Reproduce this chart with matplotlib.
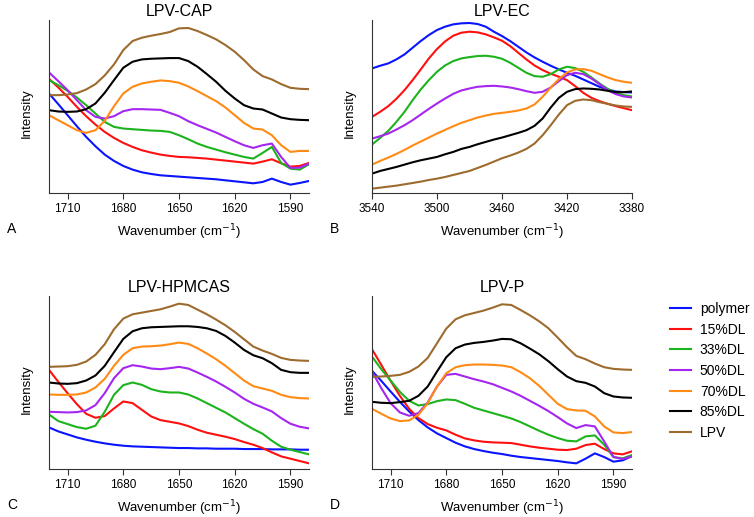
import matplotlib
matplotlib.use("Agg")
import matplotlib.pyplot as plt

plt.rcParams['font.family'] = ['Liberation Sans', 'DejaVu Sans']

# wavenumber grids (cm-1)
wn_co = [1720, 1715, 1710, 1705, 1700, 1695, 1690, 1685, 1680, 1675, 1670, 1665, 1660, 1655, 1650,
         1645, 1640, 1635, 1630, 1625, 1620, 1615, 1610, 1605, 1600, 1595, 1590, 1585, 1580]
wn_oh = [3540, 3535, 3530, 3525, 3520, 3515, 3510, 3505, 3500, 3495, 3490, 3485, 3480, 3475, 3470,
         3465, 3460, 3455, 3450, 3445, 3440, 3435, 3430, 3425, 3420, 3415, 3410, 3405, 3400, 3395,
         3390, 3385, 3380]

series_names = ["polymer", "15%DL", "33%DL", "50%DL", "70%DL", "85%DL", "LPV"]
series_colors = ["#0a14ff", "#ff1010", "#1db31d", "#a526f0", "#ff8a14", "#000000", "#9e6b2e"]

# LPV-CAP (arbitrary intensity)
cap_polymer = [298, 266, 233, 200, 168, 140, 115, 96, 81, 70, 62, 57, 53, 51, 49, 47, 45, 43, 41, 38, 35, 32, 29, 33, 43, 33, 25, 30, 36]
cap_15 = [342, 316, 288, 258, 230, 205, 183, 165, 150, 138, 128, 121, 115, 111, 108, 107, 105, 103, 100, 97, 94, 91, 88, 94, 101, 89, 79, 81, 90]
cap_33 = [338, 323, 306, 286, 263, 238, 213, 198, 193, 191, 189, 187, 186, 183, 173, 161, 148, 138, 130, 122, 115, 108, 103, 120, 138, 90, 73, 70, 86]
cap_50 = [361, 335, 308, 278, 248, 228, 223, 230, 245, 251, 251, 250, 249, 240, 230, 215, 203, 192, 181, 168, 155, 143, 135, 143, 148, 108, 75, 76, 88]
cap_70 = [233, 218, 203, 188, 180, 188, 216, 260, 298, 318, 328, 333, 337, 335, 330, 319, 305, 290, 275, 256, 233, 210, 193, 190, 173, 143, 123, 126, 126]
cap_85 = [248, 244, 243, 244, 251, 268, 300, 338, 375, 393, 400, 402, 403, 404, 404, 395, 378, 356, 333, 306, 283, 263, 253, 250, 238, 226, 221, 219, 218]
cap_lpv = [293, 293, 295, 299, 310, 326, 352, 385, 428, 455, 465, 471, 476, 482, 493, 494, 485, 473, 460, 443, 423, 398, 370, 350, 340, 326, 315, 312, 311]

# LPV-EC
ec_polymer = [373, 381, 388, 400, 415, 435, 455, 473, 488, 498, 505, 508, 509, 506, 498, 483, 470, 455, 438, 421, 406, 393, 381, 370, 360, 351, 340, 329, 318, 310, 304, 302, 301]
ec_15 = [228, 243, 260, 282, 308, 338, 370, 403, 431, 454, 471, 480, 483, 481, 475, 466, 456, 440, 420, 400, 382, 368, 357, 348, 338, 320, 300, 285, 275, 267, 260, 254, 248]
ec_33 = [145, 165, 186, 213, 243, 278, 310, 338, 363, 382, 395, 403, 407, 410, 411, 408, 402, 390, 375, 360, 350, 348, 356, 370, 378, 374, 363, 346, 328, 312, 300, 293, 289]
ec_50 = [163, 170, 178, 190, 203, 218, 235, 252, 268, 283, 297, 307, 313, 318, 320, 321, 319, 316, 311, 305, 300, 303, 316, 335, 353, 360, 356, 343, 326, 308, 296, 289, 286]
ec_70 = [85, 96, 106, 117, 129, 142, 154, 166, 178, 189, 200, 210, 218, 226, 232, 237, 240, 243, 247, 253, 265, 288, 316, 341, 361, 370, 371, 366, 356, 346, 338, 333, 330]
ec_85 = [58, 66, 72, 78, 85, 92, 98, 103, 108, 116, 123, 132, 138, 146, 153, 160, 166, 173, 180, 188, 201, 223, 256, 285, 303, 311, 313, 312, 310, 306, 302, 302, 304]
ec_lpv = [13, 16, 19, 22, 26, 30, 34, 39, 43, 48, 54, 60, 66, 75, 84, 94, 104, 112, 121, 132, 148, 173, 203, 235, 263, 276, 280, 278, 272, 267, 262, 259, 258]

# LPV-HPMCAS
hp_polymer = [125, 113, 104, 95, 88, 82, 77, 73, 70, 68, 67, 66, 65, 64, 63, 63, 62, 62, 61, 61, 61, 60, 60, 60, 59, 59, 59, 58, 58]
hp_15 = [298, 262, 228, 195, 166, 154, 159, 182, 203, 198, 178, 158, 147, 142, 137, 129, 118, 109, 103, 97, 90, 81, 73, 63, 50, 38, 31, 24, 17]
hp_33 = [164, 144, 135, 126, 121, 130, 172, 223, 252, 260, 253, 240, 233, 230, 230, 224, 212, 198, 184, 170, 153, 136, 120, 106, 85, 67, 58, 51, 44]
hp_50 = [172, 171, 170, 171, 176, 192, 228, 273, 303, 312, 308, 302, 300, 303, 307, 302, 290, 277, 263, 247, 230, 211, 196, 185, 173, 153, 136, 127, 122]
hp_70 = [224, 223, 223, 224, 230, 245, 271, 310, 343, 363, 368, 369, 371, 375, 380, 376, 363, 347, 330, 310, 288, 266, 249, 242, 235, 223, 216, 213, 212]
hp_85 = [260, 257, 256, 258, 266, 281, 310, 351, 391, 414, 423, 426, 427, 428, 429, 429, 427, 423, 415, 400, 380, 358, 342, 333, 318, 298, 291, 289, 289]
hp_lpv = [307, 308, 309, 313, 323, 343, 375, 420, 452, 465, 470, 475, 480, 488, 497, 493, 479, 465, 449, 432, 412, 390, 368, 356, 346, 334, 328, 326, 325]

# LPV-P
p_polymer = [295, 265, 233, 202, 173, 147, 125, 107, 93, 79, 68, 60, 54, 49, 45, 40, 36, 33, 30, 27, 24, 20, 17, 31, 47, 36, 22, 26, 39]
p_15 = [360, 313, 265, 220, 181, 153, 135, 124, 116, 103, 92, 86, 82, 80, 79, 78, 73, 68, 64, 61, 58, 57, 61, 72, 76, 60, 47, 44, 53]
p_33 = [338, 300, 266, 232, 205, 191, 195, 204, 209, 207, 196, 184, 176, 168, 160, 152, 141, 128, 115, 103, 93, 85, 83, 98, 101, 73, 36, 32, 42]
p_50 = [293, 243, 198, 170, 160, 168, 200, 248, 283, 286, 278, 270, 263, 255, 244, 233, 220, 205, 190, 174, 156, 137, 123, 132, 128, 83, 36, 30, 38]
p_70 = [181, 166, 152, 144, 146, 163, 198, 248, 288, 306, 312, 314, 314, 313, 311, 306, 291, 273, 250, 223, 196, 180, 176, 175, 158, 128, 110, 108, 111]
p_85 = [202, 199, 198, 201, 205, 220, 248, 293, 336, 363, 374, 379, 382, 386, 391, 390, 378, 362, 345, 324, 300, 278, 264, 259, 248, 228, 218, 215, 214]
p_lpv = [277, 278, 280, 283, 292, 308, 334, 378, 422, 450, 462, 469, 476, 485, 495, 493, 478, 462, 444, 423, 395, 366, 340, 330, 317, 306, 301, 299, 298]

ticks_co = [1710, 1680, 1650, 1620, 1590]
ticks_oh = [3540, 3500, 3460, 3420, 3380]

panels = [
    ("LPV-CAP", "A", wn_co, [cap_polymer, cap_15, cap_33, cap_50, cap_70, cap_85, cap_lpv], ticks_co, (1720, 1580)),
    ("LPV-EC", "B", wn_oh, [ec_polymer, ec_15, ec_33, ec_50, ec_70, ec_85, ec_lpv], ticks_oh, (3540, 3380)),
    ("LPV-HPMCAS", "C", wn_co, [hp_polymer, hp_15, hp_33, hp_50, hp_70, hp_85, hp_lpv], ticks_co, (1720, 1580)),
    ("LPV-P", "D", wn_co, [p_polymer, p_15, p_33, p_50, p_70, p_85, p_lpv], ticks_co, (1720, 1580)),
]

W, H = 754, 517
fig = plt.figure(figsize=(W / 100, H / 100), dpi=100)

# axes boxes in pixels: left, top, right, bottom
boxes = [(49, 20, 309, 193), (372, 20, 632, 193), (49, 296, 309, 469), (372, 296, 632, 469)]
ylims = [(0, 518), (0, 518), (0, 520), (0, 520)]

for (title, letter, wn, ys, ticks, xlim), box, ylim in zip(panels, boxes, ylims):
    l, t, r, b = box
    ax = fig.add_axes([l / W, 1 - b / H, (r - l) / W, (b - t) / H])
    for y, name, c in zip(ys, series_names, series_colors):
        ax.plot(wn, y, color=c, lw=1.5, label=name)
    ax.set_xlim(*xlim)
    ax.set_ylim(*ylim)
    ax.set_xticks(ticks)
    ax.set_yticks([])
    ax.tick_params(axis='x', length=4, width=0.8, pad=3, labelsize=8.5, color='#333333')
    for s in ['top', 'right']:
        ax.spines[s].set_visible(False)
    for s in ['left', 'bottom']:
        ax.spines[s].set_color('#333333')
        ax.spines[s].set_linewidth(0.8)
    ax.set_xlabel("Wavenumber (cm$^{-1}$)", fontsize=9.5)
    ax.xaxis.set_label_coords(0.5, -0.17)
    ax.set_ylabel("Intensity", fontsize=9.5)
    ax.yaxis.set_label_coords(-0.061, 0.46)
    ax.text(0.5, 1 + 9 / 173, title, transform=ax.transAxes, ha='center', va='center', fontsize=11.5)
    fig.text((l - 42) / W, 1 - (b + 36) / H, letter, ha='left', va='center', fontsize=10)

handles, labels = ax.get_legend_handles_labels()
fig.legend(handles, labels, loc='upper left', bbox_to_anchor=(670 / W, 1 - 302 / H),
           frameon=False, fontsize=10, handlelength=1.5, handletextpad=0.65,
           labelspacing=0.48, borderpad=0, borderaxespad=0)

fig.savefig("out.png", dpi=100)
